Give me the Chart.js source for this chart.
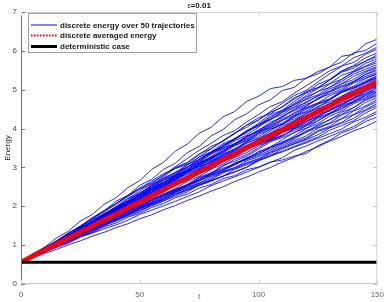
<!DOCTYPE html>
<html>
<head>
<meta charset="utf-8">
<script src="https://cdn.jsdelivr.net/npm/chart.js@4"></script>
<style>
html,body{margin:0;padding:0;background:#fff;}
#wrap{width:390px;height:302px;position:relative;}
</style>
</head>
<body>
<div id="wrap"><canvas id="c" width="390" height="302"></canvas></div>
<script>
// time samples
const t = [0,5,10,15,20,25,30,35,40,45,50,55,60,65,70,75,80,85,90,95,100,105,110,115,120,125,130,135,140,145,150];
const xTicks = [0,50,100,150];
const yTicks = [0,1,2,3,4,5,6,7];
const titleSymbol = "ε";
const titleValue = "=0.01";
const xLabel = "t";
const yLabel = "Energy";
const legendLabels = ["discrete energy over 50 trajectories","discrete averaged energy","deterministic case"];

// discrete energy, 50 trajectories
const run01 = [0.56,0.78,0.95,1.19,1.36,1.62,1.79,2.05,2.22,2.48,2.66,2.95,3.13,3.42,3.60,3.88,4.03,4.30,4.44,4.70,4.83,5.03,5.08,5.24,5.29,5.47,5.58,5.86,5.91,6.18,6.30];
const run02 = [0.56,0.74,0.95,1.10,1.32,1.47,1.71,1.88,2.13,2.28,2.54,2.69,2.95,3.11,3.38,3.54,3.81,3.97,4.23,4.38,4.61,4.74,4.98,5.06,5.30,5.41,5.59,5.71,5.95,6.01,6.20];
const run03 = [0.56,0.73,0.90,1.09,1.23,1.42,1.61,1.80,1.98,2.20,2.39,2.59,2.80,3.02,3.23,3.44,3.62,3.82,3.95,4.17,4.36,4.57,4.69,4.91,5.10,5.29,5.49,5.61,5.82,5.94,6.10];
const run04 = [0.56,0.74,0.88,1.07,1.25,1.39,1.58,1.78,1.90,2.12,2.31,2.52,2.71,2.84,3.06,3.27,3.48,3.68,3.87,4.09,4.21,4.44,4.65,4.85,4.98,5.20,5.41,5.61,5.70,5.91,6.05];
const run05 = [0.56,0.75,0.93,1.07,1.26,1.46,1.65,1.79,1.99,2.20,2.33,2.55,2.76,2.98,3.11,3.33,3.54,3.67,3.88,4.09,4.28,4.38,4.57,4.79,4.92,5.14,5.27,5.49,5.62,5.82,5.95];
const run06 = [0.56,0.73,0.87,1.06,1.20,1.39,1.53,1.73,1.90,2.05,2.24,2.43,2.56,2.77,2.95,3.17,3.37,3.58,3.71,3.93,4.14,4.36,4.47,4.70,4.91,5.04,5.25,5.47,5.60,5.73,5.90];
const run07 = [0.56,0.74,0.92,1.12,1.30,1.50,1.69,1.89,2.07,2.28,2.47,2.61,2.80,3.00,3.13,3.35,3.48,3.69,3.89,4.03,4.23,4.42,4.55,4.76,4.95,5.06,5.25,5.45,5.55,5.74,5.85];
const run08 = [0.56,0.72,0.89,1.04,1.22,1.37,1.55,1.70,1.88,2.08,2.21,2.41,2.60,2.80,3.00,3.14,3.34,3.55,3.75,3.89,4.10,4.31,4.44,4.65,4.84,5.04,5.16,5.37,5.48,5.68,5.80];
const run09 = [0.56,0.74,0.91,1.10,1.24,1.44,1.62,1.82,1.95,2.16,2.35,2.49,2.69,2.88,3.01,3.22,3.40,3.54,3.74,3.94,4.06,4.28,4.47,4.61,4.81,4.95,5.15,5.27,5.47,5.61,5.75];
const run10 = [0.56,0.73,0.90,1.05,1.23,1.42,1.55,1.75,1.94,2.08,2.28,2.48,2.61,2.82,3.01,3.15,3.35,3.49,3.69,3.83,4.04,4.24,4.42,4.56,4.76,4.96,5.06,5.26,5.45,5.59,5.70];
const run11 = [0.56,0.75,0.89,1.08,1.27,1.41,1.60,1.80,1.99,2.13,2.33,2.53,2.73,2.87,3.07,3.27,3.40,3.61,3.74,3.95,4.08,4.22,4.42,4.62,4.75,4.87,5.07,5.21,5.40,5.53,5.65];
const run12 = [0.56,0.73,0.87,1.05,1.19,1.38,1.51,1.70,1.83,2.03,2.16,2.36,2.55,2.69,2.89,3.09,3.22,3.43,3.62,3.76,3.96,4.16,4.29,4.50,4.69,4.83,5.02,5.15,5.34,5.48,5.60];
const run13 = [0.56,0.74,0.91,1.06,1.24,1.43,1.61,1.75,1.94,2.14,2.27,2.48,2.67,2.81,3.00,3.20,3.39,3.53,3.72,3.92,4.11,4.25,4.36,4.55,4.66,4.85,4.96,5.15,5.26,5.45,5.57];
const run14 = [0.56,0.72,0.88,1.06,1.20,1.39,1.57,1.71,1.89,2.03,2.22,2.36,2.55,2.75,2.88,3.08,3.27,3.41,3.60,3.80,3.93,4.13,4.32,4.46,4.58,4.78,4.96,5.10,5.21,5.40,5.53];
const run15 = [0.56,0.74,0.88,1.07,1.25,1.39,1.52,1.71,1.90,2.09,2.22,2.42,2.54,2.74,2.93,3.13,3.26,3.39,3.58,3.78,3.97,4.10,4.30,4.49,4.62,4.75,4.94,5.07,5.19,5.39,5.50];
const run16 = [0.56,0.73,0.90,1.09,1.22,1.41,1.59,1.79,1.92,2.12,2.30,2.44,2.63,2.77,2.96,3.09,3.28,3.48,3.61,3.81,3.93,4.06,4.25,4.38,4.57,4.77,4.89,5.02,5.21,5.34,5.45];
const run17 = [0.56,0.75,0.92,1.07,1.25,1.44,1.57,1.77,1.95,2.09,2.27,2.41,2.60,2.79,2.92,3.12,3.24,3.37,3.56,3.69,3.88,4.08,4.21,4.41,4.53,4.66,4.85,4.98,5.17,5.30,5.42];
const run18 = [0.56,0.73,0.86,1.04,1.18,1.32,1.50,1.68,1.81,2.01,2.19,2.39,2.52,2.72,2.91,3.05,3.24,3.44,3.57,3.70,3.89,4.02,4.21,4.34,4.53,4.66,4.77,4.97,5.09,5.29,5.40];
const run19 = [0.56,0.74,0.91,1.10,1.28,1.42,1.61,1.75,1.93,2.13,2.26,2.46,2.58,2.71,2.90,3.03,3.22,3.35,3.47,3.67,3.79,3.99,4.11,4.31,4.50,4.63,4.75,4.95,5.07,5.19,5.36];
const run20 = [0.56,0.72,0.89,1.04,1.21,1.40,1.53,1.72,1.85,2.04,2.22,2.36,2.49,2.68,2.87,3.01,3.13,3.33,3.46,3.66,3.85,3.98,4.10,4.30,4.42,4.55,4.74,4.93,5.05,5.18,5.33];
const run21 = [0.56,0.74,0.88,1.06,1.19,1.38,1.56,1.70,1.88,2.02,2.14,2.33,2.46,2.66,2.84,2.98,3.17,3.30,3.49,3.62,3.74,3.94,4.12,4.25,4.37,4.57,4.69,4.82,5.01,5.20,5.30];
const run22 = [0.56,0.73,0.90,1.08,1.26,1.45,1.58,1.77,1.96,2.10,2.29,2.49,2.62,2.75,2.87,3.07,3.19,3.31,3.43,3.63,3.75,3.88,4.07,4.20,4.39,4.52,4.64,4.84,4.96,5.16,5.28];
const run23 = [0.56,0.71,0.88,1.03,1.20,1.34,1.52,1.66,1.84,1.98,2.10,2.29,2.47,2.61,2.79,2.93,3.11,3.25,3.44,3.57,3.69,3.89,4.01,4.21,4.33,4.46,4.65,4.78,4.97,5.10,5.25];
const run24 = [0.56,0.74,0.91,1.05,1.23,1.37,1.55,1.74,1.87,2.00,2.19,2.32,2.51,2.71,2.83,2.96,3.15,3.28,3.40,3.53,3.72,3.85,3.97,4.17,4.29,4.49,4.61,4.74,4.93,5.06,5.22];
const run25 = [0.56,0.73,0.87,1.01,1.18,1.31,1.48,1.61,1.78,1.97,2.09,2.28,2.41,2.54,2.72,2.91,3.03,3.23,3.35,3.55,3.67,3.80,3.99,4.12,4.31,4.44,4.56,4.76,4.88,5.07,5.20];
const run26 = [0.56,0.74,0.90,1.08,1.22,1.41,1.54,1.67,1.85,1.98,2.10,2.29,2.40,2.59,2.70,2.83,3.02,3.21,3.33,3.53,3.65,3.78,3.96,4.16,4.28,4.41,4.60,4.73,4.92,5.05,5.18];
const run27 = [0.56,0.72,0.85,1.02,1.15,1.33,1.45,1.63,1.75,1.88,2.06,2.18,2.36,2.55,2.66,2.85,3.03,3.15,3.33,3.52,3.63,3.82,3.93,4.12,4.23,4.42,4.61,4.73,4.85,5.04,5.15];
const run28 = [0.56,0.73,0.90,1.09,1.27,1.41,1.59,1.79,1.92,2.05,2.17,2.29,2.47,2.59,2.71,2.90,3.01,3.14,3.32,3.44,3.62,3.74,3.92,4.04,4.22,4.41,4.52,4.71,4.82,5.01,5.13];
const run29 = [0.56,0.71,0.85,0.99,1.15,1.28,1.45,1.58,1.75,1.94,2.12,2.25,2.44,2.63,2.75,2.95,3.07,3.20,3.39,3.52,3.63,3.76,3.94,4.06,4.18,4.37,4.48,4.67,4.78,4.97,5.12];
const run30 = [0.56,0.73,0.87,1.05,1.18,1.31,1.43,1.61,1.73,1.86,2.03,2.16,2.28,2.46,2.64,2.77,2.95,3.15,3.27,3.47,3.59,3.71,3.89,4.01,4.19,4.31,4.49,4.61,4.79,4.98,5.10];
const run31 = [0.56,0.74,0.91,1.06,1.24,1.38,1.57,1.76,1.95,2.09,2.28,2.41,2.52,2.65,2.76,2.95,3.06,3.19,3.30,3.49,3.60,3.73,3.91,4.03,4.15,4.34,4.45,4.64,4.75,4.94,5.08];
const run32 = [0.56,0.72,0.86,1.00,1.16,1.29,1.46,1.59,1.71,1.89,2.01,2.14,2.31,2.43,2.55,2.73,2.84,3.03,3.21,3.33,3.51,3.70,3.81,4.00,4.11,4.30,4.48,4.60,4.78,4.90,5.05];
const run33 = [0.56,0.73,0.89,1.07,1.25,1.44,1.57,1.70,1.88,2.00,2.18,2.30,2.42,2.54,2.72,2.84,2.96,3.08,3.26,3.38,3.56,3.68,3.80,3.99,4.10,4.29,4.40,4.59,4.70,4.89,5.02];
const run34 = [0.56,0.71,0.84,1.01,1.13,1.26,1.43,1.55,1.67,1.85,1.96,2.15,2.26,2.39,2.56,2.75,2.86,3.05,3.16,3.29,3.47,3.66,3.77,3.89,4.07,4.26,4.37,4.56,4.67,4.86,5.00];
const run35 = [0.56,0.73,0.87,1.01,1.19,1.33,1.45,1.58,1.75,1.87,1.99,2.11,2.29,2.41,2.52,2.70,2.81,2.93,3.11,3.23,3.41,3.53,3.71,3.90,4.01,4.20,4.38,4.50,4.68,4.80,4.95];
const run36 = [0.56,0.71,0.87,1.00,1.17,1.30,1.42,1.60,1.72,1.90,2.02,2.15,2.32,2.44,2.56,2.68,2.86,2.98,3.09,3.21,3.39,3.51,3.62,3.81,4.00,4.13,4.32,4.45,4.64,4.77,4.92];
const run37 = [0.56,0.73,0.90,1.04,1.16,1.34,1.46,1.59,1.76,1.88,2.00,2.18,2.29,2.42,2.53,2.66,2.83,2.95,3.06,3.25,3.36,3.48,3.66,3.78,3.90,4.10,4.22,4.42,4.54,4.74,4.88];
const run38 = [0.56,0.71,0.85,0.98,1.14,1.27,1.39,1.57,1.68,1.81,1.98,2.10,2.22,2.40,2.51,2.64,2.81,2.93,3.11,3.23,3.34,3.53,3.64,3.76,3.94,4.06,4.24,4.36,4.54,4.73,4.85];
const run39 = [0.56,0.72,0.85,1.02,1.14,1.32,1.43,1.56,1.67,1.85,1.96,2.08,2.25,2.37,2.55,2.67,2.78,2.90,3.08,3.20,3.31,3.44,3.61,3.73,3.91,4.03,4.15,4.35,4.47,4.67,4.80];
const run40 = [0.56,0.70,0.83,1.00,1.12,1.25,1.37,1.55,1.66,1.78,1.95,2.07,2.18,2.36,2.47,2.59,2.76,2.88,2.99,3.17,3.28,3.40,3.57,3.69,3.81,4.01,4.13,4.26,4.45,4.58,4.75];
const run41 = [0.56,0.73,0.86,1.00,1.12,1.30,1.41,1.54,1.71,1.83,1.94,2.07,2.18,2.37,2.48,2.60,2.71,2.89,3.00,3.12,3.23,3.35,3.53,3.65,3.76,3.95,4.06,4.25,4.36,4.55,4.70];
const run42 = [0.56,0.71,0.84,0.97,1.09,1.27,1.38,1.51,1.62,1.80,1.91,2.04,2.21,2.33,2.44,2.57,2.68,2.86,2.97,3.10,3.21,3.39,3.50,3.62,3.73,3.92,4.03,4.16,4.35,4.48,4.65];
const run43 = [0.56,0.70,0.86,0.99,1.11,1.24,1.41,1.53,1.64,1.77,1.94,2.06,2.17,2.30,2.41,2.54,2.65,2.77,2.95,3.07,3.18,3.30,3.48,3.60,3.71,3.84,4.02,4.14,4.26,4.46,4.60];
const run44 = [0.56,0.71,0.83,0.96,1.13,1.25,1.36,1.49,1.66,1.78,1.89,2.01,2.13,2.31,2.42,2.54,2.65,2.78,2.89,3.01,3.19,3.31,3.42,3.54,3.66,3.78,3.96,4.08,4.20,4.40,4.55];
const run45 = [0.56,0.70,0.82,0.99,1.10,1.22,1.34,1.52,1.63,1.75,1.86,2.04,2.14,2.26,2.37,2.55,2.66,2.77,2.88,3.00,3.17,3.29,3.40,3.52,3.63,3.75,3.87,3.99,4.17,4.29,4.45];
const run46 = [0.56,0.70,0.82,0.94,1.05,1.21,1.31,1.42,1.52,1.64,1.79,1.90,2.01,2.13,2.25,2.37,2.53,2.65,2.76,2.88,3.00,3.13,3.25,3.44,3.55,3.68,3.80,3.93,4.05,4.24,4.40];
const run47 = [0.56,0.71,0.82,0.97,1.07,1.22,1.32,1.47,1.57,1.72,1.82,1.97,2.07,2.22,2.31,2.47,2.56,2.71,2.79,2.94,3.01,3.14,3.19,3.29,3.36,3.56,3.70,3.89,4.00,4.18,4.30];
const run48 = [0.56,0.67,0.79,0.89,1.01,1.11,1.23,1.33,1.45,1.55,1.68,1.78,1.91,2.02,2.15,2.26,2.39,2.50,2.64,2.75,2.88,3.00,3.14,3.26,3.41,3.53,3.68,3.80,3.94,4.05,4.20];
const run49 = [0.56,0.74,0.92,1.11,1.30,1.49,1.68,1.88,2.07,2.27,2.46,2.65,2.84,2.97,3.08,3.20,3.38,3.50,3.61,3.73,3.91,4.03,4.14,4.33,4.44,4.63,4.74,4.93,5.04,5.23,5.35];
const run50 = [0.56,0.73,0.90,1.09,1.27,1.47,1.66,1.86,2.05,2.25,2.44,2.57,2.68,2.80,2.91,3.03,3.14,3.26,3.37,3.49,3.60,3.72,3.83,3.95,4.07,4.20,4.39,4.52,4.71,4.84,4.98];

const runs = [run01,run02,run03,run04,run05,run06,run07,run08,run09,run10,run11,run12,run13,run14,run15,run16,run17,run18,run19,run20,run21,run22,run23,run24,run25,run26,run27,run28,run29,run30,run31,run32,run33,run34,run35,run36,run37,run38,run39,run40,run41,run42,run43,run44,run45,run46,run47,run48,run49,run50];

// discrete averaged energy
const averaged = [0.56,0.72,0.87,1.03,1.18,1.34,1.49,1.65,1.80,1.96,2.11,2.27,2.42,2.58,2.73,2.89,3.04,3.20,3.35,3.51,3.66,3.82,3.97,4.13,4.28,4.44,4.59,4.75,4.90,5.06,5.21];
// deterministic case
const detT = [0,150];
const detE = [0.56,0.56];

const FONT = '"Liberation Sans", Arial, Helvetica, sans-serif';
const pts = (xs, ys) => xs.map((x,i)=>({x:x, y:ys[i]}));

const datasets = [];
datasets.push({label: legendLabels[2], data: pts(detT, detE), borderColor:'#000', borderWidth:3, pointRadius:0, order:0});
datasets.push({label: legendLabels[1], data: pts(t, averaged), borderColor:'#ff0000', borderWidth:4.8, pointRadius:0, order:1, borderCapStyle:'round'});
runs.forEach((r,i)=>{
  datasets.push({label: i===0 ? legendLabels[0] : '', data: pts(t, r), borderColor:'#0000ff', borderWidth:0.85, pointRadius:0, order:2});
});

const decor = {
  id:'decor',
  afterDraw(chart){
    const ctx = chart.ctx, ca = chart.chartArea;
    const xs = chart.scales.x, ys = chart.scales.y;
    ctx.save();
    ctx.lineWidth = 1;
    ctx.strokeStyle = '#d4d4d4';
    ctx.beginPath();
    ctx.moveTo(ca.left, ca.top+0.5); ctx.lineTo(ca.right, ca.top+0.5);
    ctx.moveTo(ca.right-0.5, ca.top); ctx.lineTo(ca.right-0.5, ca.bottom);
    ctx.stroke();
    ctx.strokeStyle = '#c4c4c4';
    ctx.beginPath();
    ctx.moveTo(ca.left, ca.bottom-0.5); ctx.lineTo(ca.right, ca.bottom-0.5);
    ctx.stroke();
    ctx.strokeStyle = '#707070';
    ctx.beginPath();
    ctx.moveTo(ca.left+0.5, ca.top); ctx.lineTo(ca.left+0.5, ca.bottom);
    ctx.stroke();
    yTicks.forEach(v=>{
      const y = Math.round(ys.getPixelForValue(v))+0.5;
      ctx.strokeStyle = '#707070';
      ctx.beginPath(); ctx.moveTo(ca.left, y); ctx.lineTo(ca.left+4, y); ctx.stroke();
      ctx.strokeStyle = '#c4c4c4';
      ctx.beginPath(); ctx.moveTo(ca.right, y); ctx.lineTo(ca.right-4, y); ctx.stroke();
    });
    xTicks.forEach(v=>{
      const x = Math.round(xs.getPixelForValue(v))+0.5;
      ctx.strokeStyle = '#d0d0d0';
      ctx.beginPath(); ctx.moveTo(x, ca.bottom); ctx.lineTo(x, ca.bottom-4); ctx.stroke();
      ctx.beginPath(); ctx.moveTo(x, ca.top); ctx.lineTo(x, ca.top+4); ctx.stroke();
    });
    // legend
    const lx = 28, ly = 13, lw = 168, lh = 39;
    ctx.fillStyle = '#fff';
    ctx.fillRect(lx, ly, lw, lh);
    ctx.strokeStyle = '#a0a0a0';
    ctx.lineWidth = 1;
    ctx.strokeRect(lx+0.5, ly+0.5, lw, lh);
    const rows = [25, 35.5, 46.5];
    ctx.strokeStyle = '#0000ff'; ctx.lineWidth = 1;
    ctx.beginPath(); ctx.moveTo(31, rows[0]); ctx.lineTo(57, rows[0]); ctx.stroke();
    ctx.strokeStyle = '#ff0000'; ctx.lineWidth = 2.2; ctx.setLineDash([1.6,1.4]);
    ctx.beginPath(); ctx.moveTo(31, rows[1]); ctx.lineTo(57, rows[1]); ctx.stroke();
    ctx.setLineDash([]);
    ctx.strokeStyle = '#000'; ctx.lineWidth = 3;
    ctx.beginPath(); ctx.moveTo(31, rows[2]); ctx.lineTo(57, rows[2]); ctx.stroke();
    ctx.fillStyle = '#1a1a1a';
    ctx.font = 'bold 8px ' + FONT;
    ctx.textBaseline = 'middle';
    ctx.textAlign = 'left';
    legendLabels.forEach((s,i)=>ctx.fillText(s, 60, rows[i]+0.5));
    // title
    ctx.font = '7px ' + FONT;
    const w1 = ctx.measureText(titleSymbol).width;
    ctx.font = 'bold 8px ' + FONT;
    const w2 = ctx.measureText(titleValue).width;
    const cx = (ca.left + ca.right)/2;
    const x0 = cx - (w1+w2)/2;
    ctx.fillStyle = '#111';
    ctx.font = '7px ' + FONT;
    ctx.fillText(titleSymbol, x0, 6.5);
    ctx.font = 'bold 8px ' + FONT;
    ctx.fillText(titleValue, x0 + w1, 6);
    ctx.restore();
  }
};

new Chart(document.getElementById('c'), {
  type:'line',
  data:{datasets},
  options:{
    responsive:false,
    animation:false,
    events:[],
    layout:{padding:{top:12, right:10, left:0, bottom:0}},
    plugins:{legend:{display:false}, tooltip:{enabled:false}, title:{display:false}},
    elements:{line:{tension:0, borderJoinStyle:'round'}},
    scales:{
      x:{
        type:'linear', min:0, max:150,
        afterBuildTicks: s => { s.ticks = xTicks.map(v=>({value:v})); },
        ticks:{font:{family:FONT, size:8}, color:'#6a6a6a', padding:6, maxRotation:0, autoSkip:false},
        grid:{display:false, drawTicks:false},
        border:{display:false},
        title:{display:true, text:xLabel, font:{family:FONT, size:8}, color:'#6a6a6a', padding:{top:0,bottom:0}},
        afterFit: s => { s.height = 18; }
      },
      y:{
        type:'linear', min:0, max:7,
        afterBuildTicks: s => { s.ticks = yTicks.map(v=>({value:v})); },
        ticks:{font:{family:FONT, size:8}, color:'#4a4a4a', padding:4, autoSkip:false},
        grid:{display:false, drawTicks:false},
        border:{display:false},
        title:{display:true, text:yLabel, font:{family:FONT, size:8}, color:'#2a2a2a', padding:{top:3,bottom:0}},
        afterFit: s => { s.width = 21; }
      }
    }
  },
  plugins:[decor]
});
</script>
</body>
</html>
